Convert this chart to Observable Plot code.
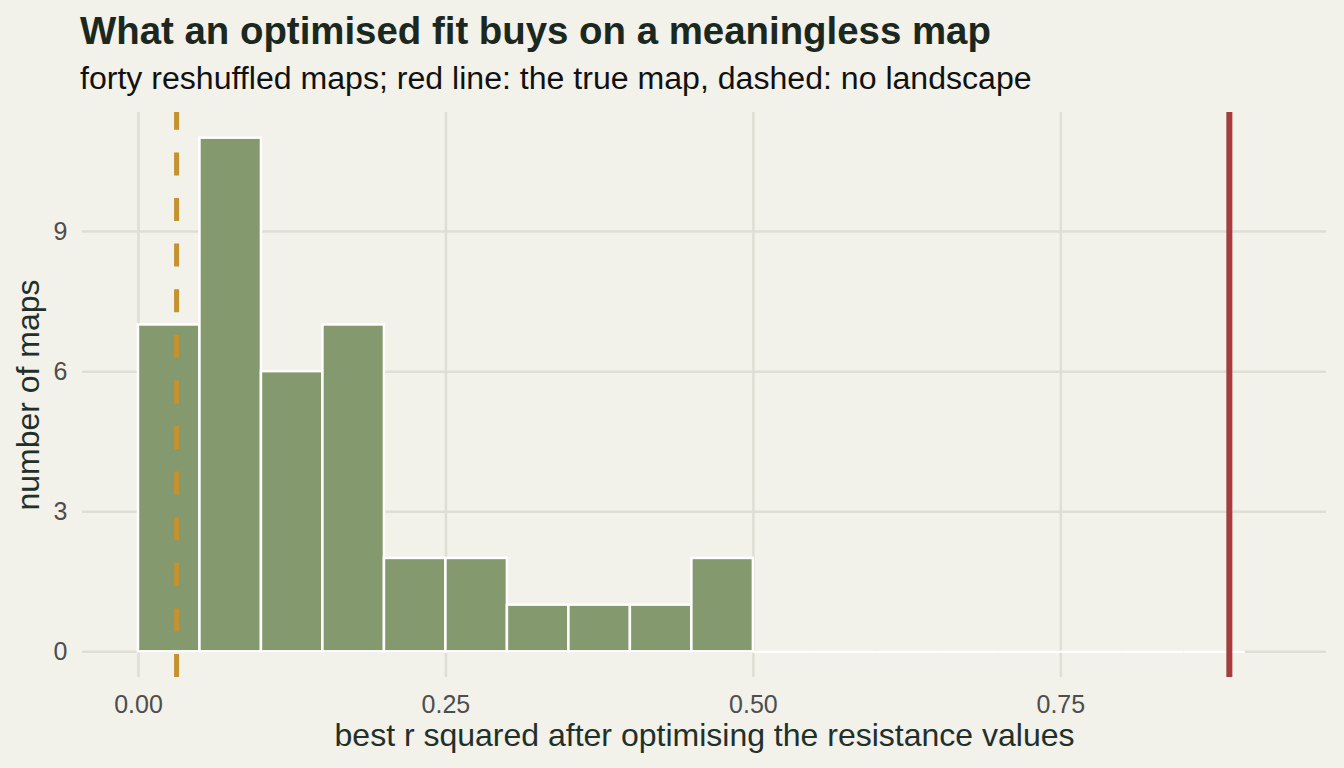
<!DOCTYPE html>
<html><head><meta charset="utf-8">
<script src="https://cdn.jsdelivr.net/npm/d3@7"></script>
<script src="https://cdn.jsdelivr.net/npm/@observablehq/plot@0.6"></script>
<style>
html,body{margin:0;padding:0;background:#F2F1EA;}
body{width:1344px;height:768px;overflow:hidden;font-family:"Liberation Sans",Arial,sans-serif;}
#header{position:relative;height:108px;}
#title{position:absolute;left:80px;top:12px;font-size:38.4px;line-height:1;font-weight:bold;color:#1B2820;white-space:nowrap;}
#subtitle{position:absolute;left:80px;top:62px;font-size:32.1px;line-height:1;color:#111111;white-space:nowrap;}
#chart svg{display:block;}
</style></head>
<body>
<div id="header">
  <div id="title">What an optimised fit buys on a meaningless map</div>
  <div id="subtitle">forty reshuffled maps; red line: the true map, dashed: no landscape</div>
</div>
<div id="chart"></div>
<script>
// histogram bins (width 0.05) and counts of the forty reshuffled maps
const binStarts = [0, 0.05, 0.10, 0.15, 0.20, 0.25, 0.30, 0.35, 0.40, 0.45, 0.50, 0.55, 0.60, 0.65, 0.70, 0.75, 0.80, 0.85];
const binWidth = 0.05;
const counts = [7, 11, 6, 7, 2, 2, 1, 1, 1, 2, 0, 0, 0, 0, 0, 0, 0, 0];
// reference lines
const trueMapR2 = 0.887;
const noLandscapeR2 = 0.031;
// ticks
const xTicks = [0, 0.25, 0.5, 0.75];
const yTicks = [0, 3, 6, 9];
const xTitle = "best r squared after optimising the resistance values";
const yTitle = "number of maps";

const bins = binStarts.map((s, i) => ({x1: s, x2: s + binWidth, count: counts[i]}));
const yDomain = [-0.55, 11.55];
const gridColor = "#DFDED5";

const chart = Plot.plot({
  width: 1344,
  height: 660,
  marginTop: 4,
  marginBottom: 91,
  marginLeft: 82,
  marginRight: 18,
  style: {background: "transparent", fontFamily: "'Liberation Sans', Arial, sans-serif", overflow: "visible"},
  x: {domain: [-0.0455, 0.966]},
  y: {domain: yDomain},
  marks: [
    Plot.gridY(yTicks, {stroke: gridColor, strokeOpacity: 1, strokeWidth: 2.5}),
    Plot.gridX(xTicks, {stroke: gridColor, strokeOpacity: 1, strokeWidth: 2.5}),
    Plot.rect(bins.filter(d => d.count > 0), {x1: "x1", x2: "x2", y1: 0, y2: "count", fill: "#84996D", stroke: "#FFFFFF", strokeWidth: 2.5}),
    Plot.ruleY(bins.filter(d => d.count === 0), {y: 0, x1: "x1", x2: "x2", stroke: "#FFFFFF", strokeWidth: 2.5}),
    Plot.ruleX([noLandscapeR2], {y1: yDomain[0], y2: yDomain[1], stroke: "#C4922F", strokeWidth: 5, strokeDasharray: "23,22.6"}),
    Plot.ruleX([trueMapR2], {y1: yDomain[0], y2: yDomain[1], stroke: "#A63D3D", strokeWidth: 6}),
    Plot.axisX(xTicks, {tickSize: 0, tickPadding: 18, fontSize: 25, fill: "#4D4D4D", tickFormat: d3.format(".2f"), label: null}),
    Plot.axisY(yTicks, {tickSize: 0, tickPadding: 15, fontSize: 25, fill: "#4D4D4D", label: null}),
    Plot.text([xTitle], {frameAnchor: "bottom", dy: 68, fontSize: 32, fill: "#22302A"}),
    Plot.text([yTitle], {frameAnchor: "left", textAnchor: "middle", dx: -54, rotate: -90, fontSize: 32, fill: "#22302A"})
  ]
});
document.getElementById("chart").appendChild(chart);
</script>
</body></html>
